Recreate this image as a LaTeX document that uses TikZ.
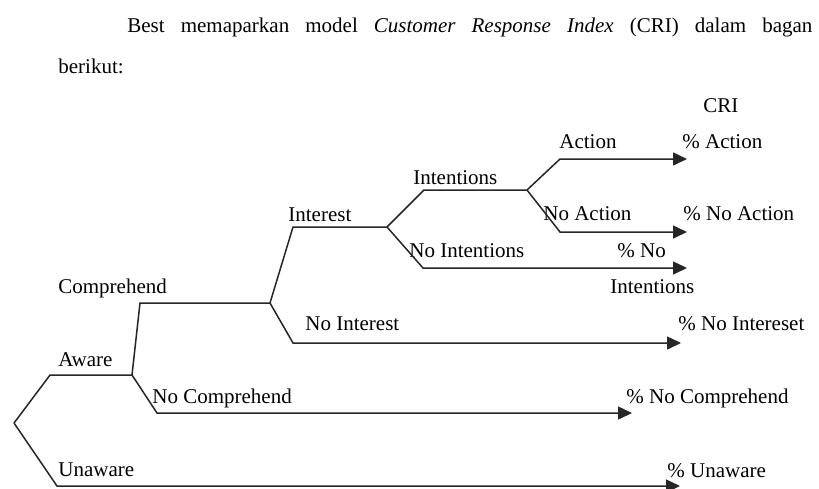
\documentclass[tikz,border=0pt]{standalone}
\usepackage{fontspec}
\setmainfont{Liberation Serif}
\usetikzlibrary{arrows.meta}
\tikzstyle{stage} = [inner sep=0pt, anchor=base west, font=\fontsize{10.5}{12}\selectfont]
\tikzstyle{branch} = [line width=0.75pt, draw=black!85]
\tikzstyle{arrow} = [branch, -{Triangle[length=7pt, width=6.5pt]}]

\begin{document}
\begin{tikzpicture}[x=0.5pt, y=-0.5pt]
            \useasboundingbox (0,0) rectangle (819,488);

            % heading
            \node [stage] at (127,32) (intro) {\makebox[342.5pt][s]{Best memaparkan model \textit{Customer Response Index} (CRI) dalam bagan}};
            \node [stage] at (58,73) (intro2) {berikut:};
            \node [stage] at (703,112) (cri) {CRI};

            % branch points
            \coordinate (root) at (14,423);
            \coordinate (aware) at (50,375);
            \coordinate (awareE) at (132,375);
            \coordinate (unaware) at (57,486);
            \coordinate (unawareE) at (680,486);
            \coordinate (comp) at (140,303);
            \coordinate (compE) at (270,303);
            \coordinate (nocomp) at (157,413);
            \coordinate (nocompE) at (632,413);
            \coordinate (inter) at (293,227);
            \coordinate (interE) at (387,227);
            \coordinate (nointer) at (293,343);
            \coordinate (nointerE) at (681,343);
            \coordinate (intent) at (424,190);
            \coordinate (intentE) at (527,190);
            \coordinate (nointent) at (423,268);
            \coordinate (nointentE) at (687,268);
            \coordinate (action) at (560,159);
            \coordinate (actionE) at (687,159);
            \coordinate (noaction) at (560,232);
            \coordinate (noactionE) at (687,232);

            % labels
            \node [stage] at (58,366) (l-aware) {Aware};
            \node [stage] at (58,476) (l-unaware) {Unaware};
            \node [stage] at (58,293) (l-comp) {Comprehend};
            \node [stage] at (152,403) (l-nocomp) {No Comprehend};
            \node [stage] at (288,221) (l-inter) {Interest};
            \node [stage] at (305,330) (l-nointer) {No Interest};
            \node [stage] at (413,184) (l-intent) {Intentions};
            \node [stage] at (409,257) (l-nointent) {No Intentions};
            \node [stage] at (559,148) (l-action) {Action};
            \node [stage] at (543,220) (l-noaction) {No Action};

            \node [stage] at (682,148) (p-action) {\% Action};
            \node [stage] at (683,220) (p-noaction) {\% No Action};
            \node [stage] at (617,257) (p-nointent) {\% No};
            \node [stage] at (610,293) (p-nointent2) {Intentions};
            \node [stage] at (678,330) (p-nointer) {\% No Intereset};
            \node [stage] at (626,403) (p-nocomp) {\% No Comprehend};
            \node [stage] at (667,477) (p-unaware) {\% Unaware};

            % tree
            \draw [branch] (root) -- (aware) -- (awareE);
            \draw [arrow] (root) -- (unaware) -- (unawareE);
            \draw [branch] (awareE) -- (comp) -- (compE);
            \draw [arrow] (awareE) -- (nocomp) -- (nocompE);
            \draw [branch] (compE) -- (inter) -- (interE);
            \draw [arrow] (compE) -- (nointer) -- (nointerE);
            \draw [branch] (interE) -- (intent) -- (intentE);
            \draw [arrow] (interE) -- (nointent) -- (nointentE);
            \draw [arrow] (intentE) -- (action) -- (actionE);
            \draw [arrow] (intentE) -- (noaction) -- (noactionE);
            \end{tikzpicture}
\end{document}
